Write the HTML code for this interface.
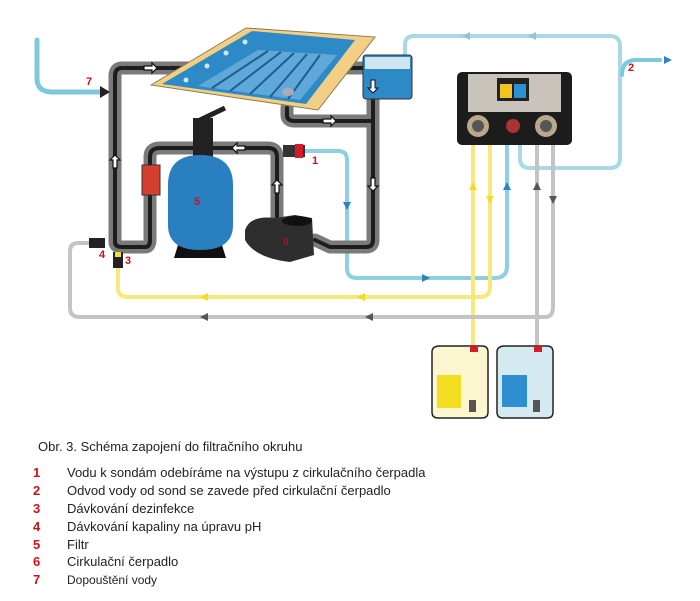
<!DOCTYPE html>
<html><head><meta charset="utf-8"><style>
html,body{margin:0;padding:0;background:#fff;}
body{width:700px;height:601px;position:relative;overflow:hidden;font-family:"Liberation Sans",Arial,sans-serif;}
.t{position:absolute;font-size:13px;color:#222;white-space:nowrap;}
.n{position:absolute;font-size:13px;color:#d0101c;font-weight:bold;}
</style></head><body>
<svg width="700" height="430" style="position:absolute;left:0;top:0" xmlns="http://www.w3.org/2000/svg">
<g fill="none" stroke-linecap="round" stroke-linejoin="round">
<path d="M405,55 L405,45 Q405,36 414,36 L610,36 Q620,36 620,46 L620,158 Q620,168 610,168 L530,168 Q520,168 520,158 L520,145" stroke="#a9d9e6" stroke-width="4"/>
<path d="M622,75 Q622,60 636,60 L660,60" stroke="#7ec8dc" stroke-width="4"/>
<path d="M305,151 L338,151 Q347,151 347,160 L347,268 Q347,278 357,278 L495,278 Q507,278 507,266 L507,145" stroke="#8fd0e0" stroke-width="4"/>
<path d="M118,258 L118,288 Q118,297 128,297 L480,297 Q490,297 490,287 L490,145" stroke="#f3ea7a" stroke-width="4"/>
<path d="M473,145 L473,352" stroke="#f3ea7a" stroke-width="4"/>
<path d="M92,243 L78,243 Q70,243 70,252 L70,308 Q70,317 80,317 L545,317 Q553,317 553,307 L553,145" stroke="#c4c4c4" stroke-width="4"/>
<path d="M537,145 L537,352" stroke="#c4c4c4" stroke-width="4"/>
<path d="M37,40 L37,78 Q37,92 52,92 L103,92" stroke="#7ec8dc" stroke-width="5"/>
<g stroke="#7a7a7a" stroke-width="13">
<path d="M363,68 L122,68 Q115,68 115,76 L115,242 Q115,247 122,247 L145,247 Q150,247 150,240 L150,157 Q150,148 160,148 L268,148 Q277,148 277,157 L277,220"/>
<path d="M287,108 L287,115 Q287,121 295,121 L373,121"/>
<path d="M373,100 L373,240 Q373,247 366,247 L330,247 L315,240"/>
</g>
<g stroke="#1d1d1d" stroke-width="4">
<path d="M363,68 L122,68 Q115,68 115,76 L115,242 Q115,247 122,247 L145,247 Q150,247 150,240 L150,157 Q150,148 160,148 L268,148 Q277,148 277,157 L277,220"/>
<path d="M287,108 L287,115 Q287,121 295,121 L373,121"/>
<path d="M373,100 L373,240 Q373,247 366,247 L330,247 L315,240"/>
</g>
</g>
<g fill="#fff" stroke="#111" stroke-width="1.2">
<path d="M144,66 h8 v-3 l5,5 l-5,5 v-3 h-8z"/>
<path d="M113,168 v-8 h-3 l5,-5 l5,5 h-3 v8z"/>
<path d="M245,146 h-8 v-3 l-5,5 l5,5 v-3 h8z"/>
<path d="M275,193 v-8 h-3 l5,-5 l5,5 h-3 v8z"/>
<path d="M323,119 h8 v-3 l5,5 l-5,5 v-3 h-8z"/>
<path d="M371,178 v8 h-3 l5,5 l5,-5 h-3 v-8z"/>
</g>
<path d="M100,86 L110,92 L100,98z" fill="#222"/>
<!-- pool -->
<path d="M151,85 L246,28 L375,37 L318,110z" fill="#f2cf84" stroke="#8a7a50" stroke-width="1"/>
<path d="M162,84 L252,31 L355,40 L306,104z" fill="#2e8ac6"/>
<path d="M198,86 L258,50 L337,55 L300,100z" fill="#5fa8da"/>
<g stroke="#1f5e8c" stroke-width="2">
<line x1="212" y1="88" x2="268" y2="51"/><line x1="230" y1="91" x2="281" y2="52"/><line x1="250" y1="94" x2="294" y2="53"/><line x1="270" y1="97" x2="307" y2="54"/><line x1="288" y1="99" x2="320" y2="55"/>
</g>
<g fill="#cfe5f2"><circle cx="186" cy="80" r="2.5"/><circle cx="207" cy="66" r="2.5"/><circle cx="226" cy="53" r="2.5"/><circle cx="245" cy="42" r="2.5"/></g>
<ellipse cx="288" cy="92" rx="6" ry="4" fill="#aab"/>
<rect x="363" y="55" width="49" height="44" rx="3" fill="#2e8ac6" stroke="#333"/>
<rect x="365" y="57" width="45" height="12" fill="#cfe5f2"/>
<path d="M371,80 v8 h-3 l5,5 l5,-5 h-3 v-8z" fill="#fff" stroke="#111"/>
<!-- filter -->
<rect x="193" y="118" width="20" height="40" fill="#222"/>
<path d="M200,120 L225,108" stroke="#222" stroke-width="5"/>
<path d="M178,245 Q200,232 222,245 L226,258 L174,258z" fill="#111"/>
<path d="M168,185 Q168,155 200,155 Q233,155 233,185 L233,225 Q233,250 200,250 Q168,250 168,225z" fill="#2a7fc0"/>
<text x="194" y="205" font-size="11" fill="#d0101c" font-weight="bold" font-family="Liberation Sans">5</text>
<rect x="142" y="165" width="18" height="30" fill="#d5402e" stroke="#333"/>
<path d="M245,230 Q250,215 275,218 L295,215 L312,218 L314,255 L290,262 Q255,258 245,240z" fill="#2e2e2e"/>
<ellipse cx="297" cy="221" rx="15" ry="5" fill="#111"/>
<text x="283" y="245" font-size="10" fill="#d0101c" font-family="Liberation Sans">6</text>
<rect x="283" y="145" width="22" height="12" fill="#333"/>
<rect x="295" y="144" width="8" height="14" fill="#d51c28"/>
<rect x="89" y="238" width="16" height="10" fill="#222"/>
<rect x="113" y="252" width="10" height="16" fill="#222"/>
<rect x="115" y="252" width="6" height="5" fill="#f3dd38"/>
<!-- controller -->
<rect x="457" y="72" width="115" height="73" rx="5" fill="#1c1c1c"/>
<rect x="468" y="74" width="93" height="38" fill="#c9c4bb"/>
<rect x="497" y="78" width="32" height="23" fill="#222"/>
<rect x="500" y="84" width="12" height="14" fill="#f2c522"/>
<rect x="514" y="84" width="12" height="14" fill="#2d8fd0"/>
<circle cx="478" cy="126" r="11" fill="#b9a88a"/><circle cx="478" cy="126" r="6" fill="#555"/>
<circle cx="546" cy="126" r="11" fill="#b9a88a"/><circle cx="546" cy="126" r="6" fill="#555"/>
<circle cx="513" cy="126" r="7" fill="#a33"/>
<path d="M432,352 Q432,346 440,346 L482,346 Q488,346 488,352 L488,412 Q488,418 482,418 L438,418 Q432,418 432,412z" fill="#fbf6cf" stroke="#222" stroke-width="1.5"/>
<rect x="437" y="375" width="24" height="33" fill="#f3dd20"/>
<path d="M497,352 Q497,346 505,346 L547,346 Q553,346 553,352 L553,412 Q553,418 547,418 L503,418 Q497,418 497,412z" fill="#d4e9f0" stroke="#222" stroke-width="1.5"/>
<rect x="502" y="375" width="25" height="32" fill="#2d8fd0"/>
<rect x="470" y="346" width="8" height="6" fill="#d51c28"/>
<rect x="534" y="346" width="8" height="6" fill="#d51c28"/>
<rect x="469" y="400" width="7" height="12" fill="#555"/>
<rect x="533" y="400" width="7" height="12" fill="#555"/>
<g>
<path d="M200,297 l8,-4 v8z" fill="#f3dd20"/><path d="M357,297 l8,-4 v8z" fill="#f3dd20"/>
<path d="M200,317 l8,-4 v8z" fill="#555"/><path d="M365,317 l8,-4 v8z" fill="#555"/>
<path d="M430,278 l-8,-4 v8z" fill="#2b86c0"/>
<path d="M347,210 l-4,-8 h8z" fill="#2b86c0"/>
<path d="M462,36 l8,-4 v8z" fill="#8ec4dc"/><path d="M528,36 l8,-4 v8z" fill="#8ec4dc"/>
<path d="M672,60 l-8,-4 v8z" fill="#2b86c0"/>
<path d="M473,182 l-4,8 h8z" fill="#f3dd20"/><path d="M490,204 l-4,-8 h8z" fill="#f3dd20"/>
<path d="M507,182 l-4,8 h8z" fill="#2b86c0"/>
<path d="M537,182 l-4,8 h8z" fill="#555"/><path d="M553,204 l-4,-8 h8z" fill="#555"/>
</g>
<g font-family="Liberation Sans" font-size="11" font-weight="bold" fill="#d0101c">
<text x="86" y="85">7</text><text x="312" y="164">1</text><text x="628" y="71">2</text>
<text x="99" y="258">4</text><text x="125" y="264">3</text>
</g>
</svg>
<div class="t" style="left:38px;top:439px">Obr. 3. Schéma zapojení do filtračního okruhu</div>
<div class="n" style="left:33px;top:465px">1</div><div class="t" style="left:67px;top:465px">Vodu k sondám odebíráme na výstupu z cirkulačního čerpadla</div>
<div class="n" style="left:33px;top:483px">2</div><div class="t" style="left:67px;top:483px">Odvod vody od sond se zavede před cirkulační čerpadlo</div>
<div class="n" style="left:33px;top:501px">3</div><div class="t" style="left:67px;top:501px">Dávkování dezinfekce</div>
<div class="n" style="left:33px;top:519px">4</div><div class="t" style="left:67px;top:519px">Dávkování kapaliny na úpravu pH</div>
<div class="n" style="left:33px;top:537px">5</div><div class="t" style="left:67px;top:537px">Filtr</div>
<div class="n" style="left:33px;top:554px">6</div><div class="t" style="left:67px;top:554px">Cirkulační čerpadlo</div>
<div class="n" style="left:33px;top:572px">7</div><div class="t" style="left:67px;top:573px;font-size:12px">Dopouštění vody</div>
</body></html>
